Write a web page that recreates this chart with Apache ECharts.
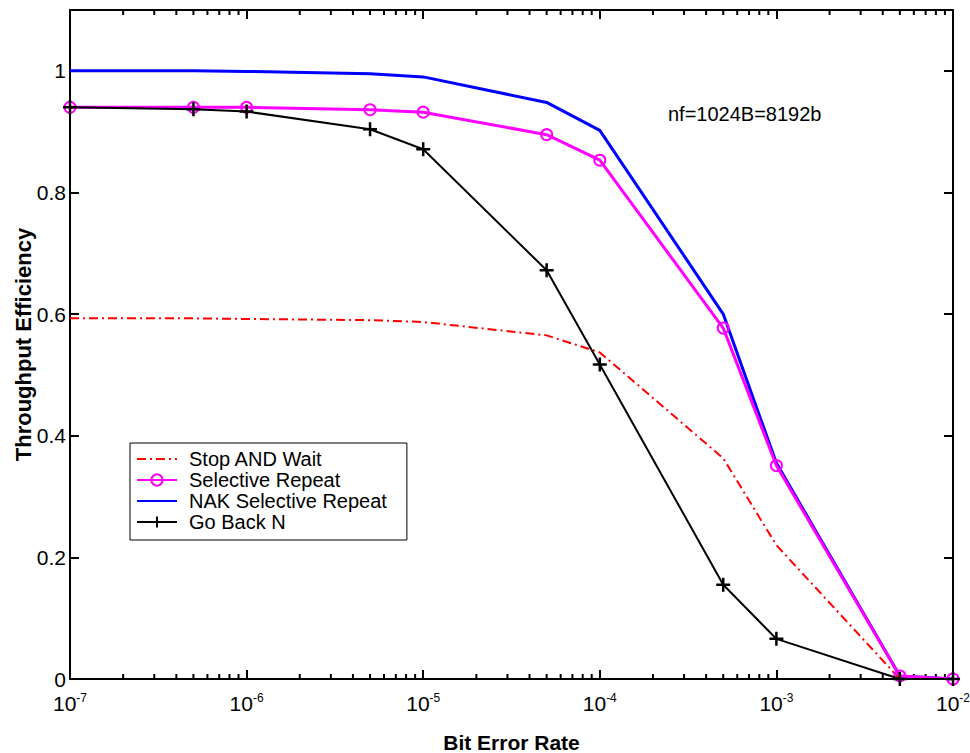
<!DOCTYPE html>
<html>
<head>
<meta charset="utf-8">
<script src="https://cdn.jsdelivr.net/npm/echarts@6/dist/echarts.min.js"></script>
<style>
  html, body { margin: 0; padding: 0; background: #fff; }
  #chartContainer { width: 970px; height: 753px; }
</style>
</head>
<body>
<div id="chartContainer"></div>
<script>
// bit error rate points (x) and throughput efficiency per protocol (y)
const ber = [1e-7, 5e-7, 1e-6, 5e-6, 1e-5, 5e-5, 1e-4, 5e-4, 1e-3, 5e-3, 1e-2];
const stopAndWait = [0.593, 0.593, 0.592, 0.590, 0.587, 0.565, 0.537, 0.363, 0.220, 0.0, 0.0];
const selectiveRepeat = [0.940, 0.940, 0.940, 0.936, 0.932, 0.895, 0.853, 0.577, 0.351, 0.005, 0.0];
const nakSelectiveRepeat = [1.0, 1.0, 0.999, 0.995, 0.990, 0.948, 0.902, 0.600, 0.355, 0.005, 0.0];
const goBackN = [0.940, 0.937, 0.933, 0.904, 0.871, 0.672, 0.517, 0.155, 0.066, 0.0, 0.0];

// minor log ticks
const decades = [1e-7, 1e-6, 1e-5, 1e-4, 1e-3];
const minorSteps = [2, 3, 4, 5, 6, 7, 8, 9];
const minorTicks = [];
decades.forEach(d => minorSteps.forEach(m => minorTicks.push([d * m])));

const pairs = arr => ber.map((x, i) => [x, arr[i]]);

var myChart = echarts.init(document.getElementById('chartContainer'), null, { renderer: 'svg' });

const FONT = 'Liberation Sans, Arial, sans-serif';
const noSymbol = { color: 'transparent', borderColor: 'transparent', borderWidth: 0, opacity: 0 };

let options = {
    animation: false,
    backgroundColor: '#fff',
    textStyle: { fontFamily: FONT },
    grid: { left: 70, right: 17, top: 10, bottom: 74, outerBoundsMode: 'none', containLabel: false },
    legend: {
        orient: 'vertical',
        left: 130,
        top: 443,
        padding: [6, 20, 8, 6],
        itemGap: 1,
        itemWidth: 40,
        itemHeight: 14,
        borderColor: '#000',
        borderWidth: 1,
        borderRadius: 0,
        backgroundColor: '#fff',
        textStyle: { fontSize: 20, color: '#000', fontFamily: FONT, padding: [0, 0, 0, 7] },
        data: [
            { name: 'Stop AND Wait', itemStyle: noSymbol },
            { name: 'Selective Repeat' },
            { name: 'NAK Selective Repeat', itemStyle: noSymbol },
            { name: 'Go Back N' }
        ]
    },
    graphic: [{
        type: 'text',
        left: 668,
        top: 104,
        style: { text: 'nf=1024B=8192b', fontSize: 20, fill: '#000', fontFamily: FONT }
    }],
    xAxis: [{
        type: 'log',
        logBase: 10,
        min: 1e-7,
        max: 1e-2,
        name: 'Bit Error Rate',
        nameLocation: 'middle',
        nameGap: 53,
        nameMoveOverlap: false,
        nameTextStyle: { fontSize: 21, fontWeight: 'bold', color: '#000', fontFamily: FONT },
        axisLine: { onZero: false, lineStyle: { color: '#000', width: 2 } },
        axisTick: { inside: true, length: 9, lineStyle: { color: '#000', width: 2 } },
        splitLine: { show: false },
        axisLabel: {
            color: '#000',
            margin: 13,
            formatter: v => '{b|10}{s|' + Math.round(Math.log10(v)) + '}',
            rich: {
                b: { fontSize: 21, fontFamily: FONT, color: '#000', verticalAlign: 'bottom' },
                s: { fontSize: 12, fontFamily: FONT, color: '#000', verticalAlign: 'top', padding: [0, 0, 10, 0] }
            }
        }
    }, {
        type: 'log',
        logBase: 10,
        min: 1e-7,
        max: 1e-2,
        position: 'top',
        axisLine: { onZero: false, lineStyle: { color: '#000', width: 2 } },
        axisTick: { inside: true, length: 9, lineStyle: { color: '#000', width: 2 } },
        axisLabel: { show: false },
        splitLine: { show: false }
    }],
    yAxis: [{
        type: 'value',
        min: 0,
        max: 1.1,
        interval: 0.2,
        name: 'Throughput Efficiency',
        nameLocation: 'middle',
        nameGap: 36,
        nameMoveOverlap: false,
        nameTextStyle: { fontSize: 22, fontWeight: 'bold', color: '#000', fontFamily: FONT },
        axisLine: { show: true, onZero: false, lineStyle: { color: '#000', width: 2 } },
        axisTick: { show: true, inside: true, length: 9, lineStyle: { color: '#000', width: 2 } },
        splitLine: { show: false },
        axisLabel: {
            color: '#000',
            fontSize: 21,
            margin: 4,
            showMaxLabel: false,
            formatter: v => (v > 1.05 ? '' : String(Math.round(v * 10) / 10))
        }
    }, {
        type: 'value',
        min: 0,
        max: 1.1,
        interval: 0.2,
        position: 'right',
        axisLine: { show: true, onZero: false, lineStyle: { color: '#000', width: 2 } },
        axisTick: { show: true, inside: true, length: 9, lineStyle: { color: '#000', width: 2 } },
        axisLabel: { show: false },
        splitLine: { show: false }
    }],
    series: [{
        name: 'Stop AND Wait',
        type: 'line',
        data: pairs(stopAndWait),
        symbol: 'none',
        color: '#ff0000',
        lineStyle: { color: '#ff0000', width: 2, type: [9, 4, 2, 4] },
        z: 3
    }, {
        name: 'NAK Selective Repeat',
        type: 'line',
        data: pairs(nakSelectiveRepeat),
        symbol: 'none',
        color: '#0000ff',
        lineStyle: { color: '#0000ff', width: 3 },
        z: 2
    }, {
        name: 'Selective Repeat',
        type: 'line',
        data: pairs(selectiveRepeat),
        symbol: 'circle',
        symbolSize: 11,
        color: '#ff00ff',
        itemStyle: { color: 'transparent', borderColor: '#ff00ff', borderWidth: 2 },
        lineStyle: { color: '#ff00ff', width: 3 },
        z: 4
    }, {
        name: 'Go Back N',
        type: 'line',
        data: pairs(goBackN),
        symbol: 'path://M0,-10L0,10M-10,0L10,0',
        symbolSize: 14,
        color: '#000',
        itemStyle: { color: 'transparent', borderColor: '#000', borderWidth: 2.5 },
        lineStyle: { color: '#000', width: 2 },
        z: 5
    }, {
        name: 'minorTicks',
        type: 'custom',
        data: minorTicks,
        silent: true,
        z: 1,
        renderItem: function (params, api) {
            const bottom = api.coord([api.value(0), 0]);
            const top = api.coord([api.value(0), 1.1]);
            return {
                type: 'group',
                children: [{
                    type: 'line',
                    shape: { x1: bottom[0], y1: bottom[1], x2: bottom[0], y2: bottom[1] - 5 },
                    style: { stroke: '#000', lineWidth: 2 }
                }, {
                    type: 'line',
                    shape: { x1: top[0], y1: top[1], x2: top[0], y2: top[1] + 5 },
                    style: { stroke: '#000', lineWidth: 2 }
                }]
            };
        }
    }]
};

myChart.setOption(options);
</script>
</body>
</html>
